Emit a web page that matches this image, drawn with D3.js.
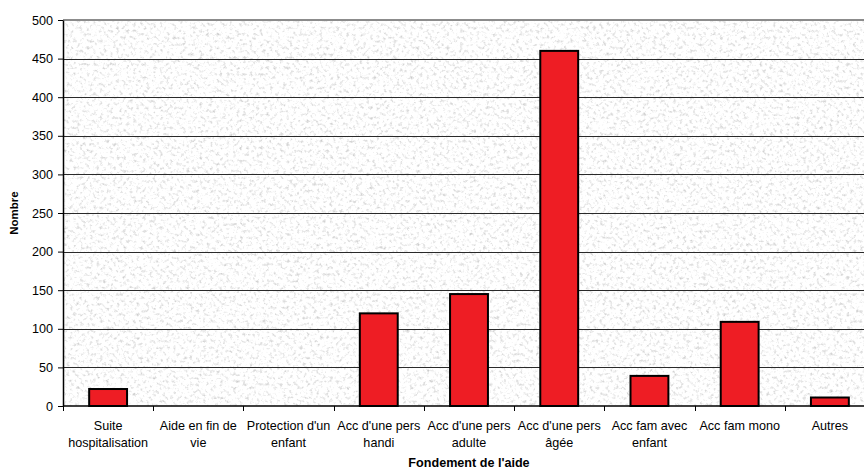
<!DOCTYPE html>
<html>
<head>
<meta charset="utf-8">
<script src="https://cdn.jsdelivr.net/npm/d3@7"></script>
<style>
  html, body { margin: 0; padding: 0; background: #fff; }
  svg { display: block; font-family: "Liberation Sans", Arial, sans-serif; }
</style>
</head>
<body>
<svg id="chart" width="864" height="471"></svg>
<script>
// Nombre d'aides par fondement
const categories = [
  "Suite\nhospitalisation",
  "Aide en fin de\nvie",
  "Protection d'un\nenfant",
  "Acc d'une pers\nhandi",
  "Acc d'une pers\nadulte",
  "Acc d'une pers\nâgée",
  "Acc fam avec\nenfant",
  "Acc fam mono",
  "Autres"
];
const values = [22, 0, 0, 120, 145, 460, 39, 109, 11];
const yTicks = [0, 50, 100, 150, 200, 250, 300, 350, 400, 450, 500];
const xTitle = "Fondement de l'aide";
const yTitle = "Nombre";

const svg = d3.select("#chart");
const plot = { left: 63, top: 20, right: 875, bottom: 406 };
const fontSize = 12.6;

const x = d3.scaleBand()
  .domain(categories)
  .range([plot.left, plot.right])
  .paddingInner(0)
  .paddingOuter(0);

const y = d3.scaleLinear()
  .domain([0, 500])
  .range([plot.bottom, plot.top]);

// granite texture for the plot background
const defs = svg.append("defs");
const f = defs.append("filter")
  .attr("id", "granite")
  .attr("x", 0).attr("y", 0).attr("width", 1).attr("height", 1)
  .attr("filterUnits", "objectBoundingBox")
  .attr("color-interpolation-filters", "sRGB");
f.append("feTurbulence")
  .attr("type", "fractalNoise")
  .attr("baseFrequency", 0.3)
  .attr("numOctaves", 3)
  .attr("seed", 7)
  .attr("result", "noise");
f.append("feColorMatrix")
  .attr("in", "noise")
  .attr("type", "matrix")
  .attr("values",
    "0.5 0 0 0 0.76  " +
    "0.5 0 0 0 0.76  " +
    "0.5 0 0 0 0.76  " +
    "0 0 0 0 1");

svg.append("rect")
  .attr("x", plot.left)
  .attr("y", plot.top)
  .attr("width", plot.right - plot.left)
  .attr("height", plot.bottom - plot.top)
  .attr("fill", "#eeeeee")
  .attr("filter", "url(#granite)");

// horizontal gridlines
svg.append("g")
  .selectAll("line")
  .data(yTicks.filter(d => d > 0 && d < 500))
  .join("line")
  .attr("x1", plot.left)
  .attr("x2", plot.right)
  .attr("y1", d => Math.round(y(d)) + 0.5)
  .attr("y2", d => Math.round(y(d)) + 0.5)
  .attr("stroke", "#2a2a2a")
  .attr("stroke-width", 1);

// top border of the plot area
svg.append("line")
  .attr("x1", plot.left).attr("x2", plot.right)
  .attr("y1", plot.top).attr("y2", plot.top)
  .attr("stroke", "#8c8c8c")
  .attr("stroke-width", 2);

// bars
const barW = x.bandwidth() * 0.42;
svg.append("g")
  .selectAll("rect")
  .data(values.map((v, i) => ({ c: categories[i], v })))
  .join("rect")
  .filter(d => d.v > 0)
  .attr("x", d => x(d.c) + (x.bandwidth() - barW) / 2)
  .attr("y", d => y(d.v))
  .attr("width", barW)
  .attr("height", d => y(0) - y(d.v))
  .attr("fill", "#ee1d24")
  .attr("stroke", "#000")
  .attr("stroke-width", 2);

// y axis
const yAxis = svg.append("g")
  .attr("transform", `translate(${plot.left},0)`)
  .call(d3.axisLeft(y).tickValues(yTicks).tickSize(5).tickPadding(5).tickSizeOuter(0));
yAxis.select(".domain").attr("stroke", "#000").attr("stroke-width", 1.5);
yAxis.selectAll(".tick line").attr("stroke", "#000");
yAxis.selectAll(".tick text")
  .attr("font-size", fontSize)
  .attr("fill", "#000")
  .attr("font-family", "Liberation Sans, Arial, sans-serif");

// x axis: ticks at band boundaries
const xAxis = svg.append("g")
  .attr("transform", `translate(0,${plot.bottom})`);
xAxis.append("line")
  .attr("x1", plot.left).attr("x2", plot.right)
  .attr("y1", 0).attr("y2", 0)
  .attr("stroke", "#000").attr("stroke-width", 1.5);
xAxis.selectAll(".bt")
  .data(categories)
  .join("line")
  .attr("class", "bt")
  .attr("x1", d => Math.round(x(d)) + 0.5)
  .attr("x2", d => Math.round(x(d)) + 0.5)
  .attr("y1", 0).attr("y2", 5)
  .attr("stroke", "#000");

// category labels
const labels = xAxis.selectAll(".lab")
  .data(categories)
  .join("text")
  .attr("class", "lab")
  .attr("text-anchor", "middle")
  .attr("font-size", fontSize)
  .attr("fill", "#000")
  .attr("transform", d => `translate(${x(d) + x.bandwidth() / 2},24)`);
labels.selectAll("tspan")
  .data(d => d.split("\n"))
  .join("tspan")
  .attr("x", 0)
  .attr("y", (d, i) => i * 16.5)
  .text(d => d);

// axis titles
svg.append("text")
  .attr("x", (plot.left + plot.right) / 2)
  .attr("y", 467)
  .attr("text-anchor", "middle")
  .attr("font-size", fontSize)
  .attr("font-weight", "bold")
  .text(xTitle);

svg.append("text")
  .attr("transform", `translate(18,${(plot.top + plot.bottom) / 2}) rotate(-90)`)
  .attr("text-anchor", "middle")
  .attr("font-size", 11.5)
  .attr("font-weight", "bold")
  .text(yTitle);
</script>
</body>
</html>
